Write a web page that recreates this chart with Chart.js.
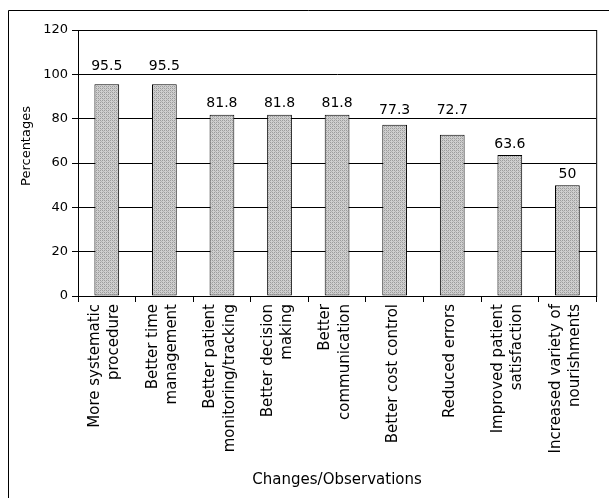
<!DOCTYPE html>
<html>
<head>
<meta charset="utf-8">
<script src="https://cdn.jsdelivr.net/npm/chart.js@4"></script>
<style>
  html, body { margin: 0; padding: 0; background: #fff; }
  #wrap { width: 609px; height: 498px; position: relative; }
</style>
</head>
<body>
<div id="wrap"><canvas id="c"></canvas></div>
<script>
// data
const categories = [
  ['More systematic', 'procedure'],
  ['Better time', 'management'],
  ['Better patient', 'monitoring/tracking'],
  ['Better decision', 'making'],
  ['Better', 'communication'],
  'Better cost control',
  'Reduced errors',
  ['Improved patient', 'satisfaction'],
  ['Increased variety of', 'nourishments'],
];
const percentages = [95.5, 95.5, 81.8, 81.8, 81.8, 77.3, 72.7, 63.6, 50];
const yTicks = [0, 20, 40, 60, 80, 100, 120];

const FONT = 'DejaVu Sans';
const X_FONT = 15, X_LH = 1.3;

// dithered grey fill, a bit like the halftone in the scan
function greyPattern() {
  const c = document.createElement('canvas');
  c.width = 4; c.height = 4;
  const g = c.getContext('2d');
  g.fillStyle = '#cfcfcf'; g.fillRect(0, 0, 4, 4);
  g.fillStyle = '#9c9c9c';
  g.fillRect(0, 0, 1, 1); g.fillRect(2, 2, 1, 1);
  g.fillRect(2, 0, 1, 1); g.fillRect(0, 2, 1, 1);
  g.fillStyle = '#b4b4b4';
  g.fillRect(1, 1, 1, 1); g.fillRect(3, 3, 1, 1);
  return g.createPattern(c, 'repeat');
}

// rotated multi-line tick labels: centre the block of lines on the tick
const centreLabels = {
  id: 'centreLabels',
  beforeDraw(chart) {
    const sx = chart.scales.x;
    const items = sx.getLabelItems(chart.chartArea);
    const lh = X_FONT * X_LH;
    items.forEach((it) => {
      if (it._shifted) return;
      const n = Array.isArray(it.label) ? it.label.length : 1;
      it.options.translation[0] -= (n - 1) * lh / 2 + 2;
      it._shifted = true;
    });
  }
};

// frame round the page, plot box, y title and the value labels
const decor = {
  id: 'decor',
  afterDraw(chart) {
    const { ctx, chartArea: a } = chart;
    const sy = chart.scales.y;
    ctx.save();
    ctx.strokeStyle = '#000';
    ctx.lineWidth = 1;
    ctx.beginPath();
    ctx.moveTo(8.5, 498); ctx.lineTo(8.5, 10.5); ctx.lineTo(609, 10.5);
    ctx.stroke();
    ctx.strokeRect(a.left + 0.5, a.top + 0.5, a.right - a.left, a.bottom - a.top);

    // value labels sit just above the bar, lifted over a grid line if they'd cross it
    const grid = yTicks.map(v => sy.getPixelForValue(v));
    ctx.fillStyle = '#000';
    ctx.font = `14px "${FONT}"`;
    ctx.textAlign = 'center';
    ctx.textBaseline = 'middle';
    const meta = chart.getDatasetMeta(0);
    meta.data.forEach((bar, i) => {
      let cy = bar.y - 11;
      const hit = grid.find(g => Math.abs(g - cy) <= 7);
      if (hit !== undefined) cy = hit - 8;
      ctx.fillText(String(percentages[i]), bar.x, cy);
    });

    ctx.translate(27, 146);
    ctx.rotate(-Math.PI / 2);
    ctx.font = `13px "${FONT}"`;
    ctx.fillText('Percentages', 0, 0);
    ctx.restore();
  }
};

new Chart(document.getElementById('c'), {
  type: 'bar',
  data: {
    labels: categories,
    datasets: [{
      data: percentages,
      backgroundColor: greyPattern(),
      borderColor: '#000',
      borderWidth: 1,
      borderSkipped: false,
      barPercentage: 0.43,
      categoryPercentage: 1,
    }],
  },
  options: {
    responsive: true,
    maintainAspectRatio: false,
    animation: false,
    layout: { padding: { left: 0, top: 30, right: 11, bottom: 0 } },
    plugins: { legend: { display: false }, tooltip: { enabled: false } },
    scales: {
      x: {
        afterFit: (s) => { s.height = 202; },
        grid: { offset: true, drawOnChartArea: false, drawTicks: true, tickLength: 6, color: '#000' },
        border: { display: true, color: '#000' },
        ticks: {
          color: '#000', minRotation: 90, maxRotation: 90, padding: 2,
          autoSkip: false,
          font: { family: FONT, size: X_FONT, lineHeight: X_LH },
        },
        title: {
          display: true, text: 'Changes/Observations', color: '#000',
          font: { family: FONT, size: 15 }, padding: { top: 4, bottom: 9 },
        },
      },
      y: {
        min: 0, max: 120,
        afterFit: (s) => { s.width = 78; },
        afterBuildTicks: (s) => { s.ticks = yTicks.map(v => ({ value: v })); },
        grid: { color: '#000', tickLength: 6 },
        border: { display: true, color: '#000' },
        ticks: { color: '#000', padding: 4, font: { family: FONT, size: 13 } },
      },
    },
  },
  plugins: [centreLabels, decor],
});
</script>
</body>
</html>
